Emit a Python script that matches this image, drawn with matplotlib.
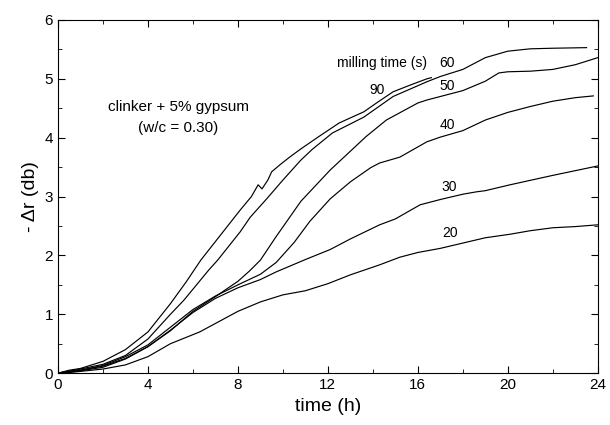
import numpy as np
import matplotlib
matplotlib.use("Agg")
import matplotlib.pyplot as plt
from matplotlib.ticker import MultipleLocator

plt.rcParams['font.family'] = ['Liberation Sans', 'DejaVu Sans']

# curves: time (h), -dr (db)
t90 = [0, 0.5, 1, 2, 3, 4, 5, 5.7, 6.35, 7.4, 8.1, 8.6, 8.9, 9.07, 9.33, 9.5, 9.87, 10.3, 10.8, 11.6, 12.5, 13.6, 14.2, 14.9, 15.7, 16.4, 16.6]
r90 = [0, 0.05, 0.08, 0.2, 0.4, 0.7, 1.18, 1.55, 1.92, 2.43, 2.77, 3.0, 3.2, 3.13, 3.28, 3.42, 3.54, 3.67, 3.81, 4.02, 4.25, 4.44, 4.6, 4.78, 4.9, 5.0, 5.02]

t60 = [0, 0.5, 1, 2, 3, 4, 5, 5.6, 6.7, 7.1, 8.1, 8.55, 9.3, 10.0, 10.8, 11.3, 12.2, 13.6, 14.9, 16.4, 17.0, 18.0, 19.0, 20.0, 21.0, 22.0, 23.5]
r60 = [0, 0.03, 0.07, 0.15, 0.3, 0.58, 1.0, 1.24, 1.75, 1.92, 2.4, 2.65, 2.97, 3.28, 3.62, 3.8, 4.08, 4.35, 4.7, 4.95, 5.04, 5.16, 5.36, 5.47, 5.51, 5.52, 5.53]

t50 = [0, 0.5, 1, 2, 3, 4, 5, 6, 7, 8, 8.5, 9.0, 9.7, 10.8, 12.1, 13.7, 14.6, 16.0, 16.4, 17.0, 18.0, 19.0, 19.6, 20.0, 21.0, 22.0, 23.0, 24.0]
r50 = [0, 0.02, 0.04, 0.1, 0.24, 0.45, 0.72, 1.05, 1.3, 1.56, 1.73, 1.92, 2.32, 2.92, 3.45, 4.02, 4.3, 4.59, 4.64, 4.7, 4.8, 4.96, 5.1, 5.12, 5.13, 5.16, 5.24, 5.36]

t40 = [0, 0.5, 1, 2, 3, 4, 5, 6, 7, 8, 9, 9.7, 10.5, 11.2, 12.1, 13.0, 13.9, 14.3, 15.2, 16.4, 17.0, 18.0, 19.0, 20.0, 21.0, 22.0, 23.0, 23.8]
r40 = [0, 0.03, 0.05, 0.13, 0.28, 0.48, 0.78, 1.08, 1.31, 1.5, 1.68, 1.88, 2.22, 2.58, 2.96, 3.25, 3.49, 3.57, 3.67, 3.93, 4.01, 4.12, 4.3, 4.43, 4.53, 4.62, 4.68, 4.71]

t30 = [0, 0.5, 1, 2, 3, 4, 5, 6, 7, 8, 9, 9.7, 11, 12.1, 13, 14.3, 15, 16.1, 17, 18, 18.6, 19, 20.1, 22, 24]
r30 = [0, 0.03, 0.05, 0.12, 0.25, 0.45, 0.73, 1.03, 1.27, 1.45, 1.59, 1.72, 1.93, 2.1, 2.28, 2.52, 2.62, 2.86, 2.95, 3.04, 3.08, 3.1, 3.2, 3.36, 3.52]

t20 = [0, 0.5, 1, 2, 3, 4, 5, 6.3, 8, 9, 10, 11, 12, 13, 14.3, 15.2, 16, 17, 18, 19, 20.1, 21, 22, 23, 24]
r20 = [0, 0.01, 0.03, 0.07, 0.14, 0.28, 0.5, 0.7, 1.05, 1.21, 1.33, 1.4, 1.52, 1.67, 1.84, 1.97, 2.05, 2.12, 2.21, 2.3, 2.36, 2.42, 2.47, 2.49, 2.52]

series = [(t90, r90), (t60, r60), (t50, r50), (t40, r40), (t30, r30), (t20, r20)]

fig = plt.figure(figsize=(6.1, 4.25), dpi=100)
ax = fig.add_axes([0.095, 0.122, 0.885, 0.831])

for t, r in series:
    ax.plot(t, r, color='black', lw=0.85)

ax.set_xlim(0, 24)
ax.set_ylim(0, 6)
ax.xaxis.set_major_locator(MultipleLocator(4))
ax.xaxis.set_minor_locator(MultipleLocator(2))
ax.yaxis.set_major_locator(MultipleLocator(1))
ax.yaxis.set_minor_locator(MultipleLocator(0.5))
ax.tick_params(which='both', direction='in', top=True, right=True, labelsize=11)
ax.tick_params(which='major', length=5)
ax.tick_params(which='minor', length=3)

ax.set_xlabel('time (h)', fontsize=14)
ax.set_ylabel('- \u0394r (db)', fontsize=14)

ax.text(14.4, 5.27, 'milling time (s)', fontsize=10, ha='center', va='center')
ax.text(17.3, 5.27, '60', fontsize=10, ha='center', va='center')
ax.text(14.2, 4.81, '90', fontsize=10, ha='center', va='center')
ax.text(17.3, 4.87, '50', fontsize=10, ha='center', va='center')
ax.text(17.3, 4.22, '40', fontsize=10, ha='center', va='center')
ax.text(17.4, 3.17, '30', fontsize=10, ha='center', va='center')
ax.text(17.45, 2.38, '20', fontsize=10, ha='center', va='center')
ax.text(5.35, 4.53, 'clinker + 5% gypsum', fontsize=11, ha='center', va='center')
ax.text(5.35, 4.16, '(w/c = 0.30)', fontsize=11, ha='center', va='center')

fig.savefig('out.png', dpi=100)
